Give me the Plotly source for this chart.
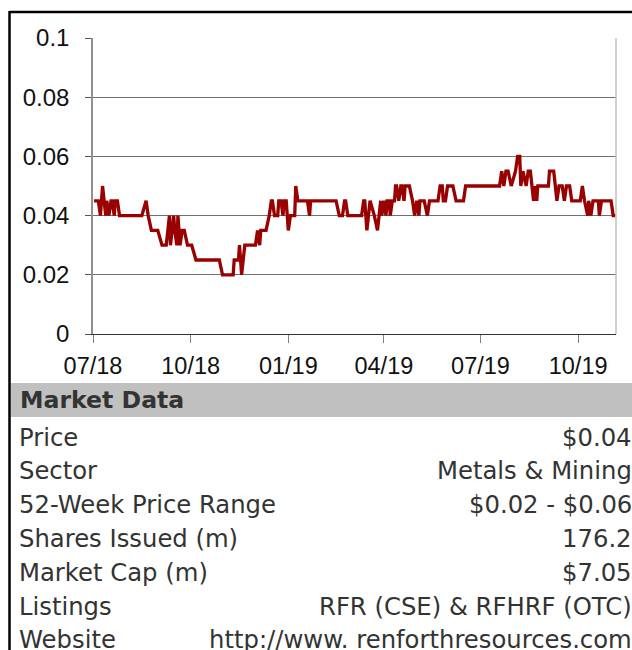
import plotly.graph_objects as go

# ---- data ----
dates = [
    "2018-07-02", "2018-07-06", "2018-07-08", "2018-07-10", "2018-07-13", "2018-07-14",
    "2018-07-16", "2018-07-18", "2018-07-19", "2018-07-21", "2018-07-22", "2018-07-24",
    "2018-07-26", "2018-08-16", "2018-08-20", "2018-08-22", "2018-08-25", "2018-08-31",
    "2018-09-04", "2018-09-08", "2018-09-11", "2018-09-12", "2018-09-15", "2018-09-16",
    "2018-09-18", "2018-09-19", "2018-09-21", "2018-09-23", "2018-09-25", "2018-09-28",
    "2018-10-02", "2018-10-06", "2018-10-28", "2018-10-31", "2018-11-10", "2018-11-11",
    "2018-11-15", "2018-11-16", "2018-11-18", "2018-11-21", "2018-12-01", "2018-12-03",
    "2018-12-05", "2018-12-06", "2018-12-11", "2018-12-14", "2018-12-16", "2018-12-17",
    "2018-12-19", "2018-12-22", "2018-12-23", "2018-12-25", "2018-12-27", "2018-12-28",
    "2018-12-30", "2019-01-01", "2019-01-03", "2019-01-07", "2019-01-08", "2019-01-10",
    "2019-01-19", "2019-01-21", "2019-01-22", "2019-02-15", "2019-02-18", "2019-02-21",
    "2019-02-23", "2019-02-24", "2019-02-26", "2019-03-11", "2019-03-13", "2019-03-14",
    "2019-03-16", "2019-03-19", "2019-03-23", "2019-03-26", "2019-03-29", "2019-03-30",
    "2019-04-01", "2019-04-03", "2019-04-04", "2019-04-06", "2019-04-07", "2019-04-09",
    "2019-04-11", "2019-04-12", "2019-04-13", "2019-04-15", "2019-04-17", "2019-04-18",
    "2019-04-20", "2019-04-21", "2019-04-25", "2019-04-28", "2019-04-30", "2019-05-02",
    "2019-05-04", "2019-05-05", "2019-05-09", "2019-05-12", "2019-05-14", "2019-05-22",
    "2019-05-24", "2019-05-26", "2019-05-27", "2019-05-29", "2019-05-31", "2019-06-05",
    "2019-06-08", "2019-06-15", "2019-06-17", "2019-07-19", "2019-07-21", "2019-07-23",
    "2019-07-25", "2019-07-27", "2019-07-30", "2019-08-03", "2019-08-05", "2019-08-07",
    "2019-08-08", "2019-08-10", "2019-08-13", "2019-08-15", "2019-08-17", "2019-08-20",
    "2019-08-21", "2019-08-23", "2019-08-24", "2019-09-03", "2019-09-04", "2019-09-08",
    "2019-09-11", "2019-09-13", "2019-09-16", "2019-09-18", "2019-09-20", "2019-09-23",
    "2019-09-25", "2019-10-03", "2019-10-05", "2019-10-07", "2019-10-10", "2019-10-11",
    "2019-10-13", "2019-10-15", "2019-10-20", "2019-10-21", "2019-10-23", "2019-11-01",
    "2019-11-03", "2019-11-05",
]
prices = [
    0.045, 0.045, 0.040, 0.050, 0.040, 0.045,
    0.040, 0.045, 0.045, 0.040, 0.045, 0.045,
    0.040, 0.040, 0.045, 0.040, 0.035, 0.035,
    0.030, 0.030, 0.040, 0.030, 0.040, 0.035,
    0.030, 0.040, 0.030, 0.035, 0.035, 0.030,
    0.030, 0.025, 0.025, 0.020, 0.020, 0.025,
    0.025, 0.030, 0.020, 0.030, 0.030, 0.035,
    0.030, 0.035, 0.035, 0.040, 0.045, 0.045,
    0.040, 0.040, 0.045, 0.045, 0.040, 0.045,
    0.045, 0.035, 0.040, 0.040, 0.050, 0.045,
    0.045, 0.040, 0.045, 0.045, 0.040, 0.040,
    0.045, 0.045, 0.040, 0.040, 0.045, 0.045,
    0.035, 0.045, 0.040, 0.035, 0.045, 0.040,
    0.045, 0.040, 0.045, 0.045, 0.040, 0.045,
    0.045, 0.050, 0.050, 0.045, 0.050, 0.050,
    0.045, 0.050, 0.050, 0.045, 0.040, 0.045,
    0.040, 0.045, 0.045, 0.040, 0.045, 0.045,
    0.050, 0.050, 0.045, 0.045, 0.050, 0.050,
    0.045, 0.045, 0.050, 0.050, 0.055, 0.050,
    0.055, 0.055, 0.050, 0.055, 0.060, 0.060,
    0.050, 0.055, 0.050, 0.055, 0.055, 0.045,
    0.050, 0.045, 0.050, 0.050, 0.055, 0.055,
    0.045, 0.050, 0.050, 0.045, 0.050, 0.050,
    0.045, 0.045, 0.050, 0.045, 0.040, 0.045,
    0.040, 0.045, 0.045, 0.040, 0.045, 0.045,
    0.040, 0.040,
]

x_tick_dates = ["2018-07-01", "2018-10-01", "2019-01-01", "2019-04-01", "2019-07-01", "2019-10-01"]
x_tick_labels = ["07/18", "10/18", "01/19", "04/19", "07/19", "10/19"]
y_tick_vals = [0, 0.02, 0.04, 0.06, 0.08, 0.1]
y_tick_labels = ["0", "0.02", "0.04", "0.06", "0.08", "0.1"]

table_header = "Market Data"
table_labels = ["Price", "Sector", "52-Week Price Range", "Shares Issued (m)",
                "Market Cap (m)", "Listings", "Website"]
table_values = ["$0.04", "Metals & Mining", "$0.02 - $0.06", "176.2",
                "$7.05", "RFR (CSE) & RFHRF (OTC)", "http://www. renforthresources.com"]

# ---- layout geometry (pixels) ----
W, H = 632, 650
L, R, T, B = 93, 616, 38, 334


def px(x):
    return (x - L) / (R - L)


def py(y):
    return (B - y) / (B - T)


fig = go.Figure()
fig.add_trace(go.Scatter(
    x=dates, y=prices, mode="lines",
    line=dict(color="#990000", width=3.3),
    hoverinfo="skip", showlegend=False,
))

shapes = [
    # right border of plot
    dict(type="line", xref="paper", yref="paper", x0=1, x1=1, y0=0, y1=1,
         line=dict(color="#c0c0c0", width=1.5)),
    # outer black frame
    dict(type="line", xref="paper", yref="paper", x0=px(9.5), x1=px(W + 5),
         y0=py(12), y1=py(12), line=dict(color="black", width=2.5)),
    dict(type="line", xref="paper", yref="paper", x0=px(9.5), x1=px(9.5),
         y0=py(11), y1=py(H + 5), line=dict(color="black", width=2.5)),
    # header background
    dict(type="rect", xref="paper", yref="paper", x0=px(11), x1=px(W + 5),
         y0=py(383), y1=py(417), fillcolor="#c0c0c0", line=dict(width=0), layer="below"),
]

TXT = "#333333"
annotations = [
    dict(text="<b>%s</b>" % table_header, xref="paper", yref="paper",
         x=px(18), y=py(400), xanchor="left", yanchor="middle", showarrow=False,
         font=dict(family="DejaVu Sans", size=23.6, color=TXT)),
]
row_y0, row_step = 437, 33.8
for i, (lab, val) in enumerate(zip(table_labels, table_values)):
    yy = row_y0 + i * row_step
    annotations.append(dict(text=lab, xref="paper", yref="paper", x=px(17), y=py(yy),
                            xanchor="left", yanchor="middle", showarrow=False,
                            font=dict(family="DejaVu Sans", size=24.3, color=TXT)))
    annotations.append(dict(text=val, xref="paper", yref="paper", x=px(634), y=py(yy),
                            xanchor="right", yanchor="middle", showarrow=False,
                            font=dict(family="DejaVu Sans", size=24.3, color=TXT)))

fig.update_layout(
    width=W, height=H,
    margin=dict(l=L, r=W - R, t=T, b=H - B, pad=0),
    paper_bgcolor="white", plot_bgcolor="white",
    shapes=shapes, annotations=annotations,
    xaxis=dict(
        type="date", range=["2018-07-01", "2019-11-05 16:00"],
        tickvals=x_tick_dates, ticktext=x_tick_labels,
        ticks="outside", ticklen=8, tickcolor="#808080", tickwidth=1,
        showgrid=False, showline=True, linecolor="#333333", linewidth=1,
        tickfont=dict(family="Liberation Sans, Arial", size=23.5, color="#111111"),
        ticklabelstandoff=3, zeroline=False,
    ),
    yaxis=dict(
        range=[0, 0.1], tickvals=y_tick_vals, ticktext=y_tick_labels,
        ticks="outside", ticklen=6, tickcolor="#555555", tickwidth=1,
        showgrid=True, gridcolor="#707070", gridwidth=1,
        showline=True, linecolor="#909090", linewidth=1.5,
        tickfont=dict(family="Liberation Sans, Arial", size=24, color="#111111"),
        ticklabelstandoff=11, zeroline=False,
    ),
)

fig.write_html(
    "out.html",
    config={"displayModeBar": False},
    post_script="document.body.style.margin='0';document.body.style.overflow='hidden';",
)
